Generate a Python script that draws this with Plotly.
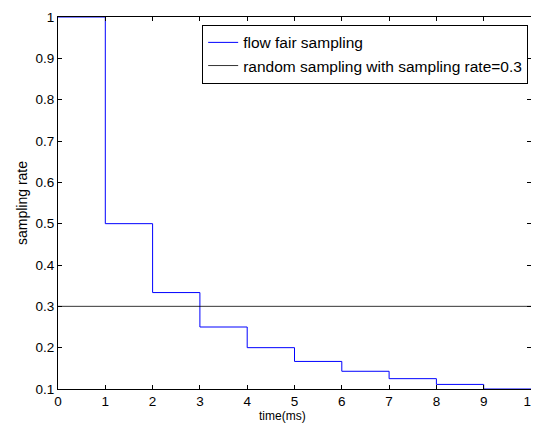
import plotly.graph_objects as go

time_ms = [0, 1, 2, 3, 4, 5, 6, 7, 8, 9, 10]
flow_fair_rate = [1.0, 0.5, 0.3333, 0.25, 0.2, 0.1667, 0.1429, 0.125, 0.1111, 0.1, 0.1]
random_rate = [0.3] * len(time_ms)
x_ticks = [0, 1, 2, 3, 4, 5, 6, 7, 8, 9, 10]
y_ticks = [0.1, 0.2, 0.3, 0.4, 0.5, 0.6, 0.7, 0.8, 0.9, 1]
y_tick_labels = ["0.1", "0.2", "0.3", "0.4", "0.5", "0.6", "0.7", "0.8", "0.9", "1"]

FONT = "Liberation Sans, Arial"

fig = go.Figure()
fig.add_trace(go.Scatter(x=time_ms, y=flow_fair_rate, mode="lines", line_shape="hv",
                         name="flow fair sampling",
                         line=dict(color="#0000ff", width=1)))
fig.add_trace(go.Scatter(x=time_ms, y=random_rate, mode="lines",
                         name="random sampling with sampling rate=0.3",
                         line=dict(color="#000000", width=0.8)))

axis_common = dict(showgrid=False, zeroline=False, showline=True, linecolor="black",
                   linewidth=1, mirror="ticks", ticks="inside", ticklen=4,
                   tickcolor="black", tickfont=dict(family=FONT, size=13.5, color="black"))

fig.update_layout(
    width=531, height=415,
    margin=dict(l=50, r=8, t=9, b=34, autoexpand=False),
    paper_bgcolor="white", plot_bgcolor="white",
    font=dict(family=FONT, size=14, color="black"),
    xaxis=dict(range=[0, 10], tickvals=x_ticks, **axis_common),
    yaxis=dict(range=[0.1, 1], tickvals=y_ticks, ticktext=y_tick_labels,
               title=dict(text="sampling rate", font=dict(size=14, color="black"), standoff=4),
               **axis_common),
    legend=dict(x=0.994, y=0.979, xanchor="right", yanchor="top",
                bordercolor="black", borderwidth=1, bgcolor="white",
                font=dict(size=15.5, color="black"), tracegroupgap=0),
    showlegend=True,
    annotations=[dict(text="time(ms)", xref="paper", yref="paper", x=0.474, y=0,
                      xanchor="center", yanchor="top", yshift=-18, showarrow=False,
                      font=dict(size=12, color="black"))],
)

fig.write_html("out.html")
